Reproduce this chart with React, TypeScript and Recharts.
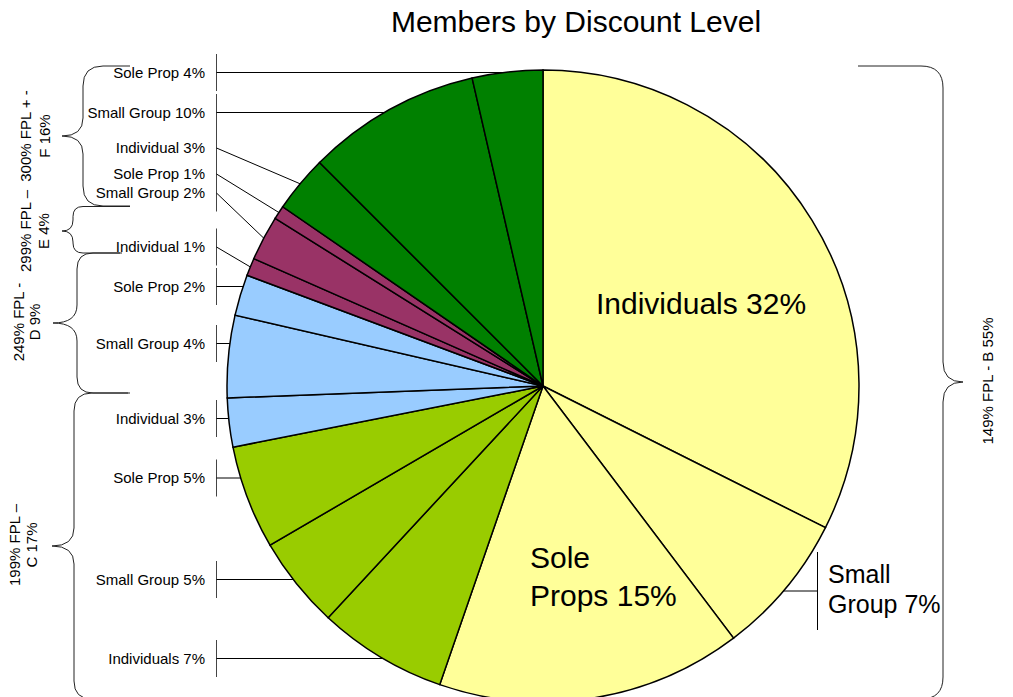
import React from 'react';
import { PieChart, Pie, Cell, Customized } from 'recharts';

// ---------- data ----------
const sliceNames = ['Individuals', 'Small Group', 'Sole Props', 'Individuals', 'Small Group', 'Sole Prop', 'Individual', 'Small Group', 'Sole Prop', 'Individual', 'Small Group', 'Sole Prop', 'Individual', 'Small Group', 'Sole Prop'];
const sliceValues = [32.4, 7.3, 15.6, 6.6, 4.7, 5.3, 2.5, 4.2, 2.1, 0.9, 2.3, 0.7, 2.9, 8.9, 3.6];
const slicePercents = [32, 7, 15, 7, 5, 5, 3, 4, 2, 1, 2, 1, 3, 10, 4];
const sliceLevels = ['B', 'B', 'B', 'C', 'C', 'C', 'D', 'D', 'D', 'E', 'E', 'E', 'F', 'F', 'F'];

const levelKeys = ['B', 'C', 'D', 'E', 'F'];
const levelTitles = [
  ['149% FPL - B 55%'],
  ['199% FPL –', 'C 17%'],
  ['249% FPL -', 'D 9%'],
  ['299% FPL –', 'E 4%'],
  ['300% FPL + -', 'F 16%'],
];

const chartTitle = 'Members by Discount Level';

// ---------- styles / layout ----------
const levelColors: Record<string, string> = {
  B: '#FFFF99',
  C: '#99CC00',
  D: '#99CCFF',
  E: '#993366',
  F: '#008000',
};
const FONT = '"Liberation Sans", Arial, Helvetica, sans-serif';
const W = 1013;
const H = 697;
const CX = 543;
const CY = 386;
const RADIUS = 316;
const RAD = Math.PI / 180;

type LabelLayout = {
  kind: 'inside' | 'right' | 'left';
  x?: number;
  y: number;
  size?: number;
  wrap?: boolean;
  lineGap?: number;
  tickX?: number;
  tickHalf?: number;
  lineY?: number;
};

const labelLayout: LabelLayout[] = [
  { kind: 'inside', x: 596, y: 314, size: 30 },
  { kind: 'right', x: 828, y: 583, size: 25, wrap: true, lineGap: 30, tickX: 817.5, tickHalf: 39, lineY: 591 },
  { kind: 'inside', x: 530, y: 568, size: 30, wrap: true, lineGap: 38 },
  { kind: 'left', y: 658.5 },
  { kind: 'left', y: 579.5 },
  { kind: 'left', y: 478 },
  { kind: 'left', y: 418.5 },
  { kind: 'left', y: 343.5 },
  { kind: 'left', y: 286.5 },
  { kind: 'left', y: 247 },
  { kind: 'left', y: 193 },
  { kind: 'left', y: 174 },
  { kind: 'left', y: 148 },
  { kind: 'left', y: 112.5 },
  { kind: 'left', y: 72.5 },
];

const LEFT_TEXT_X = 205;
const LEFT_TICK_X = 216.5;
const LEFT_TICK_HALF = 18.5;

type BraceLayout = {
  side: 'left' | 'right';
  xEndTop: number;
  xEndBot: number;
  xV: number;
  xTip: number;
  yTop: number;
  yTip: number;
  yBot: number;
  r1: number;
  r2: number;
  textX: number[];
  textY: number;
};

const braceLayout: BraceLayout[] = [
  { side: 'right', xEndTop: 858, xEndBot: 900, xV: 943, xTip: 963, yTop: 66, yTip: 382, yBot: 699, r1: 22, r2: 20, textX: [993], textY: 381 },
  { side: 'left', xEndTop: 128, xEndBot: 128, xV: 74, xTip: 52, yTop: 393, yTip: 546, yBot: 699, r1: 18, r2: 18, textX: [20, 37], textY: 545 },
  { side: 'left', xEndTop: 122, xEndBot: 130, xV: 77, xTip: 53, yTop: 253, yTip: 323, yBot: 393, r1: 16, r2: 18, textX: [23.5, 40], textY: 322 },
  { side: 'left', xEndTop: 130, xEndBot: 120, xV: 73, xTip: 62, yTop: 206.5, yTip: 231, yBot: 253, r1: 10, r2: 11, textX: [31, 48.5], textY: 231 },
  { side: 'left', xEndTop: 130, xEndBot: 130, xV: 83, xTip: 62, yTop: 66, yTip: 136, yBot: 206, r1: 20, r2: 18, textX: [31, 49.5], textY: 136 },
];

const pieData = sliceValues.map((v, i) => ({
  name: sliceNames[i],
  value: v,
  pct: slicePercents[i],
  level: sliceLevels[i],
}));

function bracePath(b: BraceLayout): string {
  const s = b.side === 'left' ? 1 : -1;
  const { xV, xTip, yTop, yTip, yBot, r1, r2 } = b;
  return [
    `M ${b.xEndTop} ${yTop}`,
    `L ${xV + s * r1} ${yTop}`,
    `Q ${xV} ${yTop} ${xV} ${yTop + r1}`,
    `L ${xV} ${yTip - r2}`,
    `Q ${xV} ${yTip} ${xTip} ${yTip}`,
    `Q ${xV} ${yTip} ${xV} ${yTip + r2}`,
    `L ${xV} ${yBot - r1}`,
    `Q ${xV} ${yBot} ${xV + s * r1} ${yBot}`,
    `L ${b.xEndBot} ${yBot}`,
  ].join(' ');
}

const Annotations = () => (
  <g>
    <text x={576} y={32} textAnchor="middle" fontFamily={FONT} fontSize={30} fill="#000">
      {chartTitle}
    </text>
    {braceLayout.map((b, i) => (
      <g key={`brace-${i}`}>
        <path d={bracePath(b)} fill="none" stroke="#222" strokeWidth={1} />
        {levelTitles[i].map((line, j) => (
          <text
            key={j}
            x={b.textX[j]}
            y={b.textY}
            transform={`rotate(-90, ${b.textX[j]}, ${b.textY})`}
            textAnchor="middle"
            fontFamily={FONT}
            fontSize={15}
            fill="#000"
          >
            {line}
          </text>
        ))}
      </g>
    ))}
  </g>
);

const renderLabel = (props: any) => {
  const { cx, cy, midAngle, outerRadius, percent, index } = props;
  const lay = labelLayout[index];
  const text = `${sliceNames[index]} ${slicePercents[index]}%`;
  if (!lay) return null;

  if (lay.kind === 'inside') {
    const lines = lay.wrap
      ? [text.slice(0, text.indexOf(' ')), text.slice(text.indexOf(' ') + 1)]
      : [text];
    return (
      <g key={`lbl-${index}`}>
        {lines.map((ln, j) => (
          <text key={j} x={lay.x} y={lay.y + j * (lay.lineGap || 0)} fontFamily={FONT} fontSize={lay.size} fill="#000">
            {ln}
          </text>
        ))}
      </g>
    );
  }

  if (lay.kind === 'right') {
    const lines = [text.slice(0, text.indexOf(' ')), text.slice(text.indexOf(' ') + 1)];
    const ly = lay.lineY as number;
    const ax = cx + Math.sqrt(Math.max(0, outerRadius * outerRadius - (ly - cy) * (ly - cy)));
    return (
      <g key={`lbl-${index}`}>
        <line x1={ax} y1={ly} x2={lay.tickX} y2={ly} stroke="#000" strokeWidth={1} />
        <line x1={lay.tickX} y1={ly - (lay.tickHalf || 0)} x2={lay.tickX} y2={ly + (lay.tickHalf || 0)} stroke="#000" strokeWidth={1} />
        {lines.map((ln, j) => (
          <text key={j} x={lay.x} y={lay.y + j * (lay.lineGap || 0)} fontFamily={FONT} fontSize={lay.size} fill="#000">
            {ln}
          </text>
        ))}
      </g>
    );
  }

  // left-side labels: horizontal leader if the label row meets the slice's arc, else to the slice's mid point
  const a0 = midAngle + percent * 180;
  const a1 = midAngle - percent * 180;
  const y0 = cy - outerRadius * Math.sin(a0 * RAD);
  const y1 = cy - outerRadius * Math.sin(a1 * RAD);
  const ymin = Math.min(y0, y1);
  const ymax = Math.max(y0, y1);
  const span = ymax - ymin;
  let ax: number;
  let ay: number;
  if (lay.y > ymin + 1 && lay.y < ymax - 1 && span < 60) {
    ay = lay.y;
    ax = cx - Math.sqrt(Math.max(0, outerRadius * outerRadius - (ay - cy) * (ay - cy)));
  } else if (lay.y > ymin + 1 && lay.y < ymax - 1) {
    ay = lay.y;
    ax = cx - Math.sqrt(Math.max(0, outerRadius * outerRadius - (ay - cy) * (ay - cy)));
  } else {
    ax = cx + outerRadius * Math.cos(midAngle * RAD);
    ay = cy - outerRadius * Math.sin(midAngle * RAD);
  }
  return (
    <g key={`lbl-${index}`}>
      <line x1={LEFT_TICK_X} y1={lay.y - LEFT_TICK_HALF} x2={LEFT_TICK_X} y2={lay.y + LEFT_TICK_HALF} stroke="#444" strokeWidth={1} />
      <line x1={LEFT_TICK_X} y1={lay.y} x2={ax} y2={ay} stroke="#000" strokeWidth={1} />
      <text x={LEFT_TEXT_X} y={lay.y} dy="0.36em" textAnchor="end" fontFamily={FONT} fontSize={15} fill="#000">
        {text}
      </text>
    </g>
  );
};

export default function App() {
  return (
    <div style={{ position: 'absolute', left: 0, top: 0, width: W, height: H, background: '#fff', overflow: 'hidden' }}>
      <PieChart width={W} height={H} margin={{ top: 0, right: 0, bottom: 0, left: 0 }}>
        <Customized component={Annotations} />
        <Pie
          data={pieData}
          dataKey="value"
          nameKey="name"
          cx={CX}
          cy={CY}
          outerRadius={RADIUS}
          startAngle={90}
          endAngle={-270}
          stroke="#000"
          strokeWidth={1.5}
          label={renderLabel}
          labelLine={false}
          isAnimationActive={false}
        >
          {pieData.map((d, i) => (
            <Cell key={`c-${i}`} fill={levelColors[d.level]} stroke="#000" strokeWidth={1.5} />
          ))}
        </Pie>
      </PieChart>
    </div>
  );
}
